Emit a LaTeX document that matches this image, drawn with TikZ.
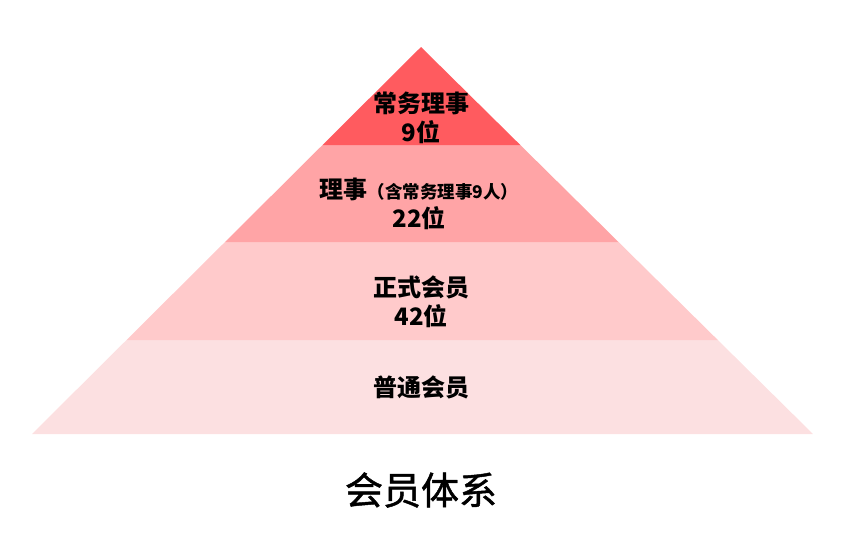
\documentclass[tikz,border=0pt]{standalone}
\usepackage{fontspec}
\newfontfamily\cjk{Noto Sans CJK SC}
\newfontfamily\cjktitle[FakeBold=1.2]{Noto Sans CJK SC}
\definecolor{pyrtop}{HTML}{FF5B5F}
\definecolor{pyrboard}{HTML}{FFA4A6}
\definecolor{pyrfull}{HTML}{FFCACB}
\definecolor{pyrbase}{HTML}{FCE0E1}

\begin{document}
\begin{tikzpicture}[x=1pt, y=-1pt]
                    \useasboundingbox (0,0) rectangle (850,550);

                    % Layers of the pyramid
                    \fill[pyrbase]  (32,434) -- (813,434) -- (717.8,340) -- (126.5,340) -- cycle;
                    \fill[pyrfull]  (126.5,340) -- (717.8,340) -- (618.5,242) -- (225,242) -- cycle;
                    \fill[pyrboard] (225,242) -- (618.5,242) -- (520.3,145) -- (322.5,145) -- cycle;
                    \fill[pyrtop]   (322.5,145) -- (520.3,145) -- (421,47) -- cycle;

                    % Labels
                    \node[align=center, font=\cjk\bfseries\fontsize{24}{28.5}\selectfont] (standing) at (421,118)
                        {常务理事\\9位};
                    \node[align=center, font=\cjk\bfseries\fontsize{24}{28.5}\selectfont] (board) at (419,204)
                        {理事{\fontsize{17.5}{28}\selectfont（含常务理事9人）}\\22位};
                    \node[align=center, font=\cjk\bfseries\fontsize{24}{28.5}\selectfont] (full) at (421,302)
                        {正式会员\\42位};
                    \node[font=\cjk\bfseries\fontsize{24}{28.5}\selectfont] (ordinary) at (421,387) {普通会员};

                    \node[font=\cjktitle\fontsize{38}{44}\selectfont] (title) at (421,490) {会员体系};
                \end{tikzpicture}
\end{document}
